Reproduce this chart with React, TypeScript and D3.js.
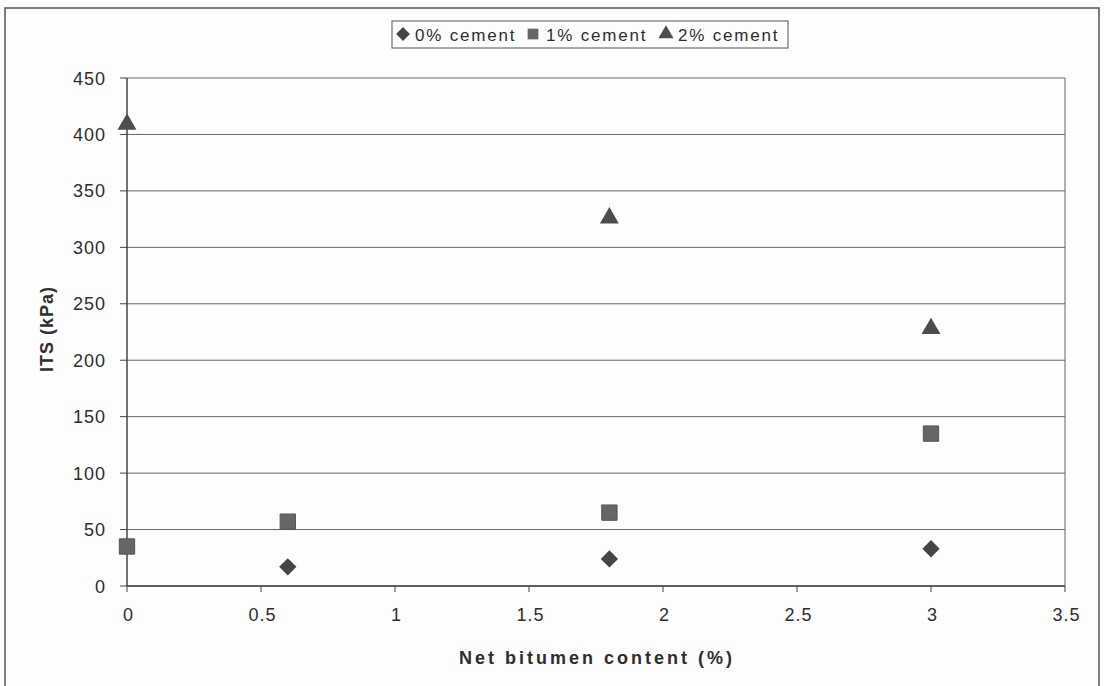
import React from "react";
import * as d3 from "d3";

const bitumen0 = [0.6, 1.8, 3.0];
const its0 = [17, 24, 33];
const bitumen1 = [0, 0.6, 1.8, 3.0];
const its1 = [35, 57, 65, 135];
const bitumen2 = [0, 1.8, 3.0];
const its2 = [409, 326, 228];
const xTicks = [0, 0.5, 1, 1.5, 2, 2.5, 3, 3.5];
const yTicks = [0, 50, 100, 150, 200, 250, 300, 350, 400, 450];
const legendLabels = ["0% cement", "1% cement", "2% cement"];

const W = 1104;
const H = 686;
const left = 127;
const right = 1065;
const top = 78;
const bottom = 586;

export default function App() {
  const x = d3.scaleLinear().domain([0, 3.5]).range([left, right]);
  const y = d3.scaleLinear().domain([0, 450]).range([bottom, top]);
  const font = "'Liberation Sans', Arial, sans-serif";
  const diamond = d3.symbol().type(d3.symbolDiamond2).size(190)() as string;
  const square = d3.symbol().type(d3.symbolSquare).size(235)() as string;
  const triangle = d3.symbol().type(d3.symbolTriangle).size(155)() as string;
  const markFill = ["#454545", "#666", "#4d4d4d"];
  const shapes = [diamond, square, triangle];
  const legendX = [403, 533, 666];
  const textX = [415, 546, 678];

  return (
    <svg width={W} height={H} style={{ position: "absolute", left: 0, top: 0, background: "#fdfdfd" }} fontFamily={font}>
      <rect x={5} y={8} width={1094} height={700} fill="#fdfdfd" stroke="#555" strokeWidth={1.5} />
      {yTicks.map((t) => (
        <line key={"g" + t} x1={left} x2={right} y1={y(t)} y2={y(t)} stroke="#666" strokeWidth={1} />
      ))}
      <line x1={right} x2={right} y1={top} y2={bottom} stroke="#666" strokeWidth={1} />
      <line x1={left} x2={left} y1={top} y2={bottom} stroke="#444" strokeWidth={1.5} />
      <line x1={left} x2={right} y1={bottom} y2={bottom} stroke="#444" strokeWidth={1.5} />
      {yTicks.map((t) => (
        <g key={"y" + t}>
          <line x1={left - 7} x2={left} y1={y(t)} y2={y(t)} stroke="#444" strokeWidth={1} />
          <text x={106} y={y(t) + 6.5} textAnchor="end" fontSize={18} letterSpacing={1} fill="#2e2e2e">
            {t}
          </text>
        </g>
      ))}
      {xTicks.map((t) => (
        <g key={"x" + t}>
          <line x1={x(t)} x2={x(t)} y1={bottom} y2={bottom + 6} stroke="#444" strokeWidth={1} />
          <text x={x(t) + 1.5} y={621} textAnchor="middle" fontSize={18} letterSpacing={1} fill="#2e2e2e">
            {t}
          </text>
        </g>
      ))}
      <text x={597} y={664} textAnchor="middle" fontSize={18} fontWeight="bold" letterSpacing={3} fill="#2e2e2e">
        Net bitumen content (%)
      </text>
      <text
        transform={`translate(53,329) rotate(-90)`}
        textAnchor="middle"
        fontSize={18}
        fontWeight="bold"
        letterSpacing={1}
        fill="#2e2e2e"
      >
        ITS (kPa)
      </text>
      {bitumen0.map((b, i) => (
        <path key={"d" + i} d={diamond} transform={`translate(${x(b)},${y(its0[i])})`} fill={markFill[0]} />
      ))}
      {bitumen1.map((b, i) => (
        <path key={"s" + i} d={square} transform={`translate(${x(b)},${y(its1[i])})`} fill={markFill[1]} stroke="#555" strokeWidth={1} />
      ))}
      {bitumen2.map((b, i) => (
        <path key={"t" + i} d={triangle} transform={`translate(${x(b)},${y(its2[i])})`} fill={markFill[2]} />
      ))}
      <rect x={392} y={21} width={396} height={27} fill="#fdfdfd" stroke="#555" strokeWidth={1} />
      {legendLabels.map((l, i) => (
        <g key={"l" + i}>
          <path
            d={shapes[i]}
            transform={`translate(${legendX[i]},34) scale(${i === 1 ? 0.7 : 0.8})`}
            fill={markFill[i]}
          />
          <text x={textX[i]} y={41} fontSize={17} letterSpacing={1.8} fill="#2e2e2e">
            {l}
          </text>
        </g>
      ))}
    </svg>
  );
}
